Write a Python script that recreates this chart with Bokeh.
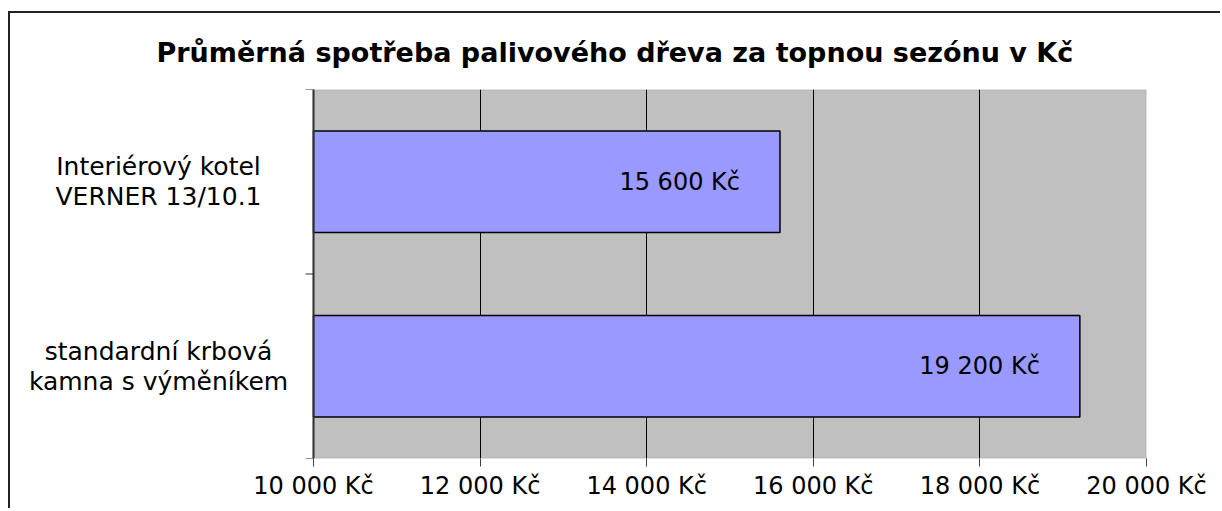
import math
from bokeh.plotting import figure
from bokeh.models import Range1d, FixedTicker, ColumnDataSource, BoxAnnotation, Span
from bokeh.core.properties import value
from bokeh.embed import file_html
from bokeh.resources import INLINE

# ---- data ----
title_text = "Průměrná spotřeba palivového dřeva za topnou sezónu v Kč"
categories = ["standardní krbová\nkamna s výměníkem", "Interiérový kotel\nVERNER 13/10.1"]
values = [19200, 15600]
tick_values = [10000, 12000, 14000, 16000, 18000, 20000]
tick_labels = ["10 000 Kč", "12 000 Kč", "14 000 Kč", "16 000 Kč", "18 000 Kč", "20 000 Kč"]
x_min, x_max = 10000, 20000

FONT = "DejaVu Sans"

# ---- layout constants (pixels) ----
W, H = 1212, 497
PLOT_LEFT_PX = 303      # where the value axis starts inside the frame
PLOT_W_PX = 833         # width of the grey plot area
RIGHT_PAD = W - PLOT_LEFT_PX - PLOT_W_PX
TOP_PAD = 75
PLOT_H_PX = 370
BOTTOM_PAD = H - TOP_PAD - PLOT_H_PX
CAT_LABEL_CENTER_PX = 155   # distance of category label centre left of the axis

per_px = (x_max - x_min) / PLOT_W_PX
x_lo = x_min - PLOT_LEFT_PX * per_px
cat_label_x = x_min - CAT_LABEL_CENTER_PX * per_px

def fmt(v):
    return f"{v:,}".replace(",", " ") + " Kč"

idx = list(range(len(categories)))
bounds = [i - 0.5 for i in range(len(categories) + 1)]
src = ColumnDataSource(dict(y=idx, right=values, label=[fmt(v) for v in values]))

p = figure(width=W, height=H, output_backend="svg", toolbar_location=None,
           x_range=Range1d(x_lo, x_max), y_range=Range1d(bounds[0], bounds[-1]),
           y_axis_location=None)
p.styles = {"border-left": "2px solid #222", "border-top": "2px solid #222",
            "margin-top": "11px", "margin-left": "8px"}
p.min_border_left = 0
p.min_border_right = RIGHT_PAD
p.min_border_top = TOP_PAD
p.min_border_bottom = BOTTOM_PAD

p.background_fill_color = "white"
p.border_fill_color = "white"
p.outline_line_color = None

# grey plot area
p.add_layout(BoxAnnotation(left=x_min, right=x_max, fill_color="#C0C0C0", fill_alpha=1.0,
                           line_color="#808080", line_width=1.5, level="image"))

p.title.text = title_text
p.title.align = "left"
p.title.offset = 146
p.title.standoff = 43
p.title.text_font = FONT
p.title.text_font_size = "27px"
p.title.text_font_style = "bold"
p.title.text_color = "black"

p.hbar(y="y", right="right", left=x_min, height=0.55, source=src,
       fill_color="#9999FF", line_color="black", line_width=1.5)

p.text(x="right", y="y", text="label", source=src, x_offset=-40,
       text_align="right", text_baseline="middle",
       text_font=value(FONT), text_font_size="24px", text_color="black")

# category labels
p.text(x=[cat_label_x] * len(categories), y=idx, text=categories,
       text_align="center", text_baseline="middle", text_line_height=1.02,
       text_font=value(FONT), text_font_size="25px", text_color="black")

# value axis line + category boundary ticks
p.add_layout(Span(location=x_min, dimension="height", line_color="#303030", line_width=2))
p.ray(x=[x_min] * len(bounds), y=bounds, length=8, length_units="screen",
      angle=math.pi, line_color="#303030", line_width=1)

# x axis
p.xaxis.ticker = FixedTicker(ticks=tick_values)
p.xaxis.major_label_overrides = {t: l for t, l in zip(tick_values, tick_labels)}
p.xaxis.major_tick_out = 8
p.xaxis.major_tick_in = 0
p.xaxis.minor_tick_line_color = None
p.xaxis.major_label_standoff = 5
p.xaxis.major_label_text_font = FONT
p.xaxis.major_label_text_font_size = "24px"
p.xaxis.major_label_text_color = "black"
p.xaxis.axis_line_color = None
p.xaxis.major_tick_line_color = "#404040"
p.xgrid.ticker = FixedTicker(ticks=tick_values)
p.xgrid.grid_line_color = "black"
p.xgrid.grid_line_width = 1
p.ygrid.grid_line_color = None

open("out.html", "w").write(file_html(p, INLINE))
